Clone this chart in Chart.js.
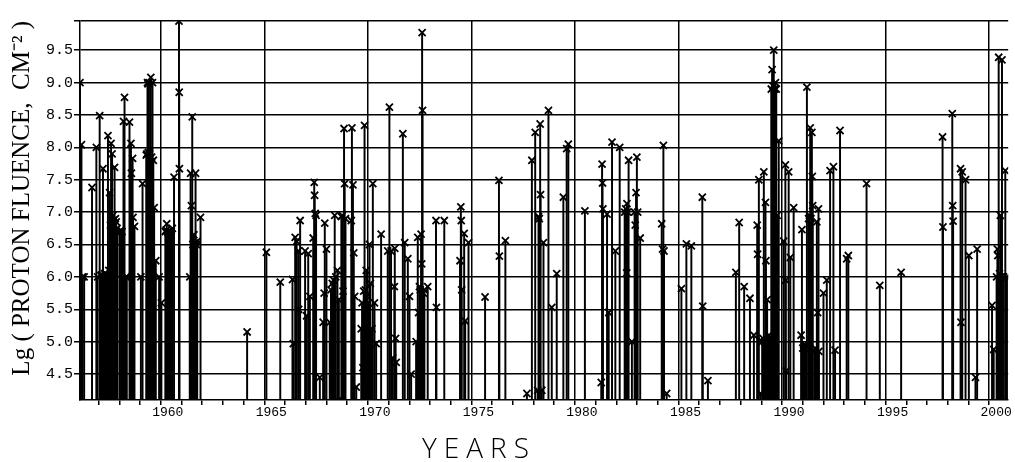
<!DOCTYPE html>
<html>
<head>
<meta charset="utf-8">
<script src="https://cdn.jsdelivr.net/npm/chart.js@4/dist/chart.umd.min.js"></script>
<style>
  html, body { margin: 0; padding: 0; background: #fff; }
</style>
</head>
<body>
<canvas id="fluenceChart" width="1015" height="462"></canvas>
<script>
// event dates (decimal years) and log10 proton fluence, grouped by solar cycle
const cycle19Years = [
  1956.10, 1956.17, 1956.22, 1956.30, 1956.68, 1956.89, 1956.95, 1957.05, 1957.10, 1957.15,
  1957.21, 1957.25, 1957.28, 1957.32, 1957.36, 1957.40, 1957.45, 1957.49, 1957.53, 1957.57,
  1957.60, 1957.65, 1957.69, 1957.73, 1957.77, 1957.81, 1957.85, 1957.89, 1958.00, 1958.08,
  1958.13, 1958.20, 1958.25, 1958.32, 1958.36, 1958.49, 1958.56, 1958.58, 1958.64, 1958.66,
  1958.73, 1959.04, 1959.12, 1959.30, 1959.33, 1959.36, 1959.38, 1959.40, 1959.43, 1959.46,
  1959.52, 1959.56, 1959.60, 1959.64, 1959.68, 1959.76, 1959.92, 1960.03, 1960.22, 1960.26,
  1960.29, 1960.33, 1960.36, 1960.40, 1960.45, 1960.50, 1960.56, 1960.64, 1960.88, 1960.89,
  1960.90, 1961.40, 1961.44, 1961.48, 1961.52, 1961.55, 1961.60, 1961.64, 1961.68, 1961.72,
  1961.76, 1961.92,
];
const cycle19Fluence = [
  9.00, 8.04, 6.00, 6.00, 7.38, 8.00, 6.00, 8.49, 6.02, 6.03,
  7.67, 6.00, 6.05, 6.02, 6.04, 6.02, 8.18, 6.10, 7.30, 6.80,
  8.06, 7.90, 6.95, 6.88, 7.69, 6.90, 6.85, 6.75, 6.70, 6.72,
  6.70, 8.40, 8.77, 6.00, 6.00, 8.39, 8.06, 7.60, 7.83, 6.92,
  6.78, 6.00, 7.44, 7.88, 7.90, 9.00, 8.98, 7.92, 9.00, 7.90,
  9.08, 7.85, 9.00, 7.80, 7.07, 6.25, 6.00, 5.60, 6.70, 6.72,
  6.82, 6.70, 6.68, 6.70, 6.65, 6.70, 6.75, 7.54, 9.95, 8.85,
  7.67, 6.00, 7.60, 7.10, 8.47, 6.50, 6.65, 6.52, 7.60, 6.50,
  6.55, 6.92,
];

const cycle20Years = [
  1964.17, 1965.10, 1965.77, 1966.36, 1966.40, 1966.49, 1966.56, 1966.64, 1966.66, 1966.73,
  1966.97, 1967.04, 1967.12, 1967.20, 1967.36, 1967.41, 1967.43, 1967.46, 1967.50, 1967.68,
  1967.84, 1967.89, 1967.92, 1968.00, 1968.16, 1968.22, 1968.28, 1968.34, 1968.40, 1968.45,
  1968.53, 1968.56, 1968.60, 1968.72, 1968.76, 1968.80, 1968.85, 1968.88, 1968.92, 1969.20,
  1969.23, 1969.28, 1969.32, 1969.36, 1969.44, 1969.68, 1969.72, 1969.76, 1969.80, 1969.84,
  1969.88, 1969.92, 1969.96, 1970.02, 1970.08, 1970.12, 1970.20, 1970.24, 1970.32, 1970.40,
  1970.64, 1970.96, 1971.04, 1971.12, 1971.20, 1971.28, 1971.30, 1971.34, 1971.37, 1971.69,
  1971.78, 1971.93, 1972.01, 1972.09, 1972.33, 1972.41, 1972.45, 1972.49, 1972.53, 1972.57,
  1972.60, 1972.62, 1972.64, 1972.68, 1972.73, 1972.89, 1973.29, 1973.31, 1973.69, 1974.45,
  1974.49, 1974.51, 1974.53, 1974.65, 1974.70, 1974.86, 1975.66,
];
const cycle20Fluence = [
  5.15, 6.38, 5.92, 5.96, 4.97, 6.61, 6.55, 6.40, 5.50, 6.87,
  6.40, 5.40, 6.36, 5.70, 6.60, 7.46, 7.26, 6.98, 6.95, 4.45,
  5.30, 5.75, 6.83, 6.43, 5.30, 5.80, 5.90, 5.95, 6.95, 6.00,
  6.10, 4.09, 5.65, 6.93, 6.95, 5.78, 8.29, 7.44, 6.90, 6.87,
  8.30, 7.42, 6.37, 5.70, 4.30, 5.20, 5.60, 4.60, 5.78, 8.34,
  5.80, 6.10, 5.70, 5.60, 6.50, 5.90, 5.20, 7.44, 5.60, 4.97,
  6.66, 6.40, 8.62, 6.40, 4.75, 5.85, 6.44, 5.05, 4.68, 8.21,
  6.53, 6.28, 5.70, 4.50, 5.00, 6.61, 5.45, 5.85, 5.80, 6.66,
  6.20, 9.77, 8.57, 5.75, 5.80, 5.85, 6.87, 5.53, 6.87, 6.25,
  7.08, 6.87, 5.80, 6.67, 5.32, 6.53, 5.69,
];

const cycle21Years = [
  1976.33, 1976.35, 1976.64, 1977.68, 1977.92, 1978.08, 1978.20, 1978.24, 1978.28, 1978.32,
  1978.34, 1978.40, 1978.48, 1978.72, 1978.88, 1979.12, 1979.44, 1979.60, 1979.68, 1980.48,
  1981.27, 1981.31, 1981.33, 1981.35, 1981.55, 1981.63, 1981.79, 1981.95, 1982.16, 1982.40,
  1982.45, 1982.50, 1982.51, 1982.55, 1982.59, 1982.75, 1982.88, 1982.91, 1982.95, 1982.99,
  1983.03, 1983.15, 1984.19, 1984.23, 1984.27, 1984.30, 1984.43, 1985.14, 1985.38, 1985.62,
  1986.15, 1986.17, 1986.42,
];
const cycle21Fluence = [
  7.49, 6.32, 6.56, 4.20, 7.80, 8.23, 4.25, 6.93, 6.90, 8.36,
  7.27, 4.25, 6.53, 8.57, 5.53, 6.05, 7.23, 7.98, 8.05, 7.02,
  4.37, 7.74, 7.45, 7.05, 6.97, 5.45, 8.08, 6.40, 8.00, 7.00,
  7.05, 6.06, 7.13, 7.00, 7.80, 5.00, 7.00, 6.80, 7.30, 7.85,
  7.00, 6.60, 6.82, 6.43, 8.03, 6.40, 4.20, 5.82, 6.51, 6.48,
  7.23, 5.55, 4.40,
];

const cycle22Years = [
  1987.77, 1987.93, 1988.17, 1988.45, 1988.64, 1988.80, 1988.82, 1988.88, 1988.96, 1989.04,
  1989.08, 1989.12, 1989.16, 1989.20, 1989.22, 1989.28, 1989.32, 1989.36, 1989.40, 1989.44,
  1989.48, 1989.52, 1989.56, 1989.60, 1989.64, 1989.68, 1989.72, 1989.76, 1989.84, 1990.08,
  1990.16, 1990.18, 1990.20, 1990.32, 1990.40, 1990.56, 1990.92, 1990.96, 1991.00, 1991.04,
  1991.08, 1991.12, 1991.20, 1991.28, 1991.32, 1991.36, 1991.40, 1991.44, 1991.46, 1991.48,
  1991.56, 1991.60, 1991.68, 1991.72, 1991.76, 1991.78, 1992.00, 1992.16, 1992.32, 1992.48,
  1992.56, 1992.80, 1993.12, 1993.20, 1994.08, 1994.72, 1995.75,
];
const cycle22Fluence = [
  6.07, 6.84, 5.85, 5.67, 5.10, 6.80, 6.35, 7.50, 4.20, 5.00,
  5.05, 7.62, 5.00, 7.15, 6.25, 5.65, 5.00, 5.10, 5.00, 5.05,
  8.90, 9.20, 8.95, 9.50, 8.90, 9.00, 8.90, 6.95, 8.10, 6.55,
  7.73, 5.95, 4.55, 7.62, 6.30, 7.07, 5.10, 6.73, 4.90, 4.95,
  4.90, 4.95, 8.93, 6.90, 6.95, 8.30, 6.90, 8.23, 7.55, 7.10,
  4.85, 4.90, 6.85, 5.45, 7.05, 4.85, 5.75, 5.95, 7.64, 7.70,
  4.87, 8.26, 6.28, 6.33, 7.44, 5.87, 6.07,
];

const cycle23Years = [
  1997.75, 1997.77, 1998.22, 1998.24, 1998.26, 1998.62, 1998.64, 1998.70, 1998.86, 1999.02,
  1999.34, 1999.42, 2000.14, 2000.22, 2000.36, 2000.40, 2000.42, 2000.46, 2000.50, 2000.54,
  2000.58, 2000.62, 2000.70, 2000.78, 2000.86,
];
const cycle23Fluence = [
  8.16, 6.77, 8.52, 7.10, 6.86, 7.67, 5.30, 7.62, 7.50, 6.33,
  4.45, 6.43, 5.56, 4.88, 6.00, 6.43, 6.33, 9.39, 6.05, 6.95,
  6.00, 9.35, 6.00, 7.64, 6.00,
];

const yearTicks = [1960, 1965, 1970, 1975, 1980, 1985, 1990, 1995, 2000];
const yearTickLabels = ['1960', '1965', '1970', '1975', '1980', '1985', '1990', '1995', '2000'];
const fluenceTicks = [4.5, 5.0, 5.5, 6.0, 6.5, 7.0, 7.5, 8.0, 8.5, 9.0, 9.5];
const fluenceTickLabels = ['4.5', '5.0', '5.5', '6.0', '6.5', '7.0', '7.5', '8.0', '8.5', '9.0', '9.5'];

const X_MIN = 1956.1;
const X_MAX = 2000.92;
const Y_MIN = 4.1;
const Y_MAX = 9.95;

const allYears = [...cycle19Years, ...cycle20Years, ...cycle21Years, ...cycle22Years, ...cycle23Years];
const allFluence = [...cycle19Fluence, ...cycle20Fluence, ...cycle21Fluence, ...cycle22Fluence, ...cycle23Fluence];
const events = allYears.map((year, i) => ({ x: year, y: allFluence[i] }));

// one tick per whole year; only the five-year ones get a label and a grid line
const wholeYears = [];
for (let year = Math.ceil(X_MIN); year <= Math.floor(X_MAX); year += 1) wholeYears.push(year);

// x axis caption, spaced out like the original
const yearsCaption = {
  id: 'yearsCaption',
  afterDraw(chart) {
    const { ctx, chartArea } = chart;
    ctx.save();
    ctx.font = '300 28px "Open Sans"';
    ctx.letterSpacing = '7px';
    ctx.fillStyle = '#000';
    ctx.textAlign = 'center';
    ctx.textBaseline = 'alphabetic';
    ctx.fillText('YEARS', chartArea.left + 399, 458);
    ctx.restore();
  },
};

const chart = new Chart(document.getElementById('fluenceChart'), {
  type: 'bar',
  data: {
    datasets: [
      {
        type: 'scatter',
        label: 'events',
        data: events,
        pointStyle: 'crossRot',
        pointRadius: 5,
        borderColor: '#000',
        backgroundColor: '#000',
        borderWidth: 1.8,
      },
      {
        type: 'bar',
        label: 'stems',
        data: events,
        backgroundColor: '#000',
        barThickness: 1.3,
        grouped: false,
      },
    ],
  },
  options: {
    responsive: false,
    animation: false,
    layout: { padding: { top: 21, right: 0, left: 0, bottom: 0 } },
    plugins: {
      legend: { display: false },
      tooltip: { enabled: false },
    },
    scales: {
      x: {
        type: 'linear',
        min: X_MIN,
        max: X_MAX,
        offset: false,
        afterBuildTicks: axis => { axis.ticks = wholeYears.map(value => ({ value })); },
        afterFit: axis => { axis.height = 62; },
        grid: {
          offset: false,
          lineWidth: 1.5,
          color: ctx => (ctx.tick && yearTicks.includes(ctx.tick.value) ? '#000' : 'rgba(0,0,0,0)'),
          tickColor: '#000',
          tickLength: 5,
        },
        border: { color: '#000', width: 1.5 },
        ticks: {
          autoSkip: false,
          maxRotation: 0,
          labelOffset: 7,
          padding: 0,
          color: '#000',
          font: { family: 'Liberation Mono', size: 13 },
          callback: value => {
            const i = yearTicks.indexOf(value);
            return i >= 0 ? yearTickLabels[i] : '';
          },
        },
      },
      y: {
        type: 'linear',
        min: Y_MIN,
        max: Y_MAX,
        afterBuildTicks: axis => { axis.ticks = [...fluenceTicks, Y_MAX].map(value => ({ value })); },
        afterFit: axis => { axis.width = 80; },
        grid: { color: '#000', lineWidth: 1.5, tickLength: 6 },
        border: { color: '#000', width: 1.5 },
        ticks: {
          padding: 1,
          color: '#000',
          font: { family: 'Liberation Mono', size: 15 },
          callback: value => {
            const i = fluenceTicks.indexOf(value);
            return i >= 0 ? fluenceTickLabels[i] : '';
          },
        },
        title: {
          display: true,
          text: 'Lg ( PROTON FLUENCE,  CM\u207B\u00B2 )',
          align: 'end',
          color: '#000',
          font: { family: 'Liberation Serif', size: 25, weight: 'normal' },
          padding: { top: 7, bottom: 0 },
        },
      },
    },
  },
  plugins: [yearsCaption],
});
</script>
</body>
</html>
